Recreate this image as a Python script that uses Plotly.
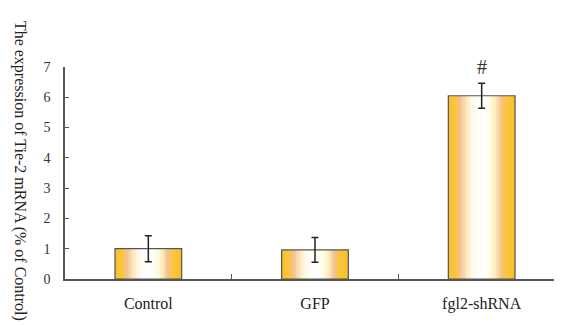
import plotly.graph_objects as go

categories = ["Control", "GFP", "fgl2-shRNA"]
values = [1.0, 0.96, 6.05]
errors = [0.43, 0.41, 0.41]
y_ticks = [0, 1, 2, 3, 4, 5, 6, 7]
marker_text = ["", "", "#"]

SERIF = "Liberation Serif, Times New Roman, serif"

# horizontal colour profile across each bar (style only)
stops = [
    (0.00, (250, 192, 44)),
    (0.12, (251, 198, 64)),
    (0.18, (244, 192, 146)),
    (0.26, (252, 224, 178)),
    (0.34, (255, 246, 224)),
    (0.42, (255, 253, 248)),
    (0.56, (255, 255, 255)),
    (0.64, (255, 252, 222)),
    (0.72, (252, 234, 186)),
    (0.79, (242, 194, 150)),
    (0.86, (251, 198, 66)),
    (1.00, (250, 190, 40)),
]

def color_at(t):
    for (t0, c0), (t1, c1) in zip(stops[:-1], stops[1:]):
        if t0 <= t <= t1:
            f = (t - t0) / (t1 - t0) if t1 > t0 else 0
            c = [round(a + (b - a) * f) for a, b in zip(c0, c1)]
            return "rgb(%d,%d,%d)" % tuple(c)
    return "rgb(%d,%d,%d)" % stops[-1][1]

BAR_W = 0.4
N = 40
step = BAR_W / N

fig = go.Figure()
for i in range(N):
    t = (i + 0.5) / N
    fig.add_trace(go.Bar(
        x=categories, y=values,
        width=step * 1.15, offset=-BAR_W / 2 + i * step,
        marker=dict(color=color_at(t), line=dict(width=0)),
        showlegend=False, hoverinfo="skip",
    ))

fig.add_trace(go.Bar(
    x=categories, y=values,
    width=BAR_W, offset=-BAR_W / 2,
    marker=dict(color="rgba(0,0,0,0)", line=dict(color="#555555", width=1.2)),
    error_y=dict(type="data", array=errors, visible=True,
                 color="#222222", thickness=1.5, width=3.5),
    showlegend=False,
))

for c, v, e, t in zip(categories, values, errors, marker_text):
    if t:
        fig.add_annotation(x=c, y=v + e, text=t, showarrow=False,
                           yanchor="bottom", yshift=3,
                           font=dict(family=SERIF, size=20, color="#333333"))

fig.add_annotation(
    xref="paper", yref="paper", x=-0.09, y=0.51,
    xanchor="center", yanchor="middle",
    text="The expression of Tie-2 mRNA (% of Control)",
    textangle=90, showarrow=False,
    font=dict(family=SERIF, size=16, color="#222222"),
)

fig.update_layout(
    width=562, height=325,
    margin=dict(l=57, r=5, t=59, b=54),
    paper_bgcolor="white", plot_bgcolor="white",
    barmode="overlay",
    font=dict(family=SERIF, color="#222222"),
)
fig.update_xaxes(
    type="category", range=[-0.5, 2.5],
    showline=True, linecolor="#555555", linewidth=1.5,
    ticks="inside", tickson="boundaries", ticklen=5, tickcolor="#555555",
    showgrid=False, zeroline=False,
    tickfont=dict(family=SERIF, size=16, color="#222222"),
    ticklabelstandoff=9,
)
fig.update_yaxes(
    range=[0, 7], tickvals=y_ticks,
    showline=True, linecolor="#555555", linewidth=1.5,
    ticks="inside", ticklen=4, tickcolor="#555555",
    showgrid=False, zeroline=False,
    tickfont=dict(family=SERIF, size=14, color="#333333"),
    ticklabelstandoff=10,
)

fig.write_html("out.html")
